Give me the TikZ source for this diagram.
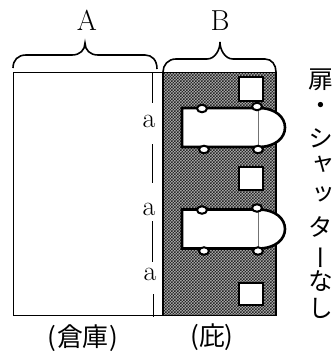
\documentclass[tikz,border=0pt]{standalone}
\usepackage{fontspec}
\usetikzlibrary{patterns,shapes.geometric}
\newfontfamily\cjk{Noto Sans CJK JP}
\newfontfamily\cjkv[RawFeature=+vert]{Noto Sans CJK JP}
\pgfdeclarepatternformonly{shadedots}{\pgfqpoint{-0.5bp}{-0.5bp}}{\pgfqpoint{3.5bp}{3.5bp}}{\pgfqpoint{3bp}{3bp}}{%
  \pgfpathrectangle{\pgfqpoint{0bp}{0bp}}{\pgfqpoint{1.5bp}{1.5bp}}%
  \pgfpathrectangle{\pgfqpoint{1.5bp}{1.5bp}}{\pgfqpoint{1.5bp}{1.5bp}}%
  \pgfusepath{fill}}
\tikzset{
  x=1bp,y=-1bp,
  wall/.style={line width=1.8bp,black},
  brace/.style={line width=1.6bp,black},
  latin/.style={inner sep=0,font=\fontsize{29}{29}\selectfont},
  small latin/.style={inner sep=0,font=\fontsize{28}{28}\selectfont},
  captext/.style={inner sep=0,font=\cjk\fontsize{26}{26}\selectfont},
  vert/.style={inner sep=0,font=\cjkv\fontsize{25}{25}\selectfont},
  win/.style={fill=white,draw=black,line width=1.8bp},
  hinge/.style={ellipse,fill=white,draw=black,line width=2bp,minimum width=10bp,minimum height=7.5bp,inner sep=0},
  door/.style={fill=white,draw=black,line width=2.6bp},
  gate/.style={draw=black!55,line width=1bp},
}
\newcommand{\garage}[1]{%
  \draw[door] (182,#1-19.5) -- (258,#1-19.5) .. controls (276,#1-19.5) and (285,#1-10) .. (285,#1) .. controls (285,#1+10) and (276,#1+19.5) .. (258,#1+19.5) -- (182,#1+19.5) -- cycle;
  \draw[gate] (258,#1-19.5) -- (258,#1+19.5);
  \node[hinge] at (202,#1-19) {};
  \node[hinge] at (257,#1-21) {};
  \node[hinge] at (204,#1+22) {};
  \node[hinge] at (258,#1+22) {};
}
\begin{document}
\begin{tikzpicture}
\useasboundingbox (0,0) rectangle (335,352);
% warehouse
\draw[wall] (13.5,315.5) -- (13.5,72.5) -- (163,72.5);
\draw[wall] (13.5,315.5) -- (163,315.5);
% eaves
\fill[black!28] (163,72.5) rectangle (276,315.5);
\fill[pattern=shadedots,pattern color=black!85] (163,72.5) rectangle (276,315.5);
\draw[line width=1.4bp] (163,72.5) -- (276,72.5) -- (276,315.5) -- (163,315.5) -- cycle;
% windows
\draw[win] (239,77) rectangle (263,101);
\draw[win] (239,167) rectangle (263,190);
\draw[win] (239,283) rectangle (263,305);
\garage{127.5}
\garage{229}
% dashed dimension line
\node[small latin] (a1) at (149,121) {a};
\node[small latin] (a2) at (149,209) {a};
\node[small latin] (a3) at (150,274) {a};
\draw[line width=1.6bp] (152.5,73) -- (152.5,103);
\draw[line width=1.6bp] (152.5,144) -- (152.5,183);
\draw[line width=1.6bp] (152.5,221) -- (152.5,262);
\draw[line width=1.6bp] (153.5,294) -- (153.5,317);
% braces
\draw[brace] (13,68) .. controls (13,60) and (18,55) .. (26,55) -- (72,55) .. controls (80,55) and (85,50) .. (85,43) .. controls (85,50) and (90,55) .. (98,55) -- (145,55) .. controls (152,55) and (157,60) .. (157,69);
\draw[brace] (163,72) .. controls (163,65) and (168,59) .. (176,59) -- (207,59) .. controls (215,59) and (220,50) .. (220,42) .. controls (220,50) and (225,59) .. (233,59) -- (265,59) .. controls (272,59) and (276,65) .. (276,72);
% labels
\node[latin] (A) at (87,20) {A};
\node[latin] (B) at (220,21) {B};
\node[captext] (c1) at (83,338) {(\kern1pt倉庫\kern1pt)};
\node[captext] (c2) at (212,337) {(庇)};
% vertical text
\node[vert] (v1) at (321,80) {扉};
\node[vert] (v2) at (321,108) {・};
\node[vert] (v3) at (321,138) {シ};
\node[vert] (v4) at (321,165) {ャ};
\node[vert] (v5) at (321,195) {ッ};
\node[vert] (v6) at (321,227) {タ};
\node[vert] (v7) at (321,258) {ー};
\node[vert] (v8) at (321,281) {な};
\node[vert] (v9) at (321,308) {し};
\end{tikzpicture}
\end{document}
